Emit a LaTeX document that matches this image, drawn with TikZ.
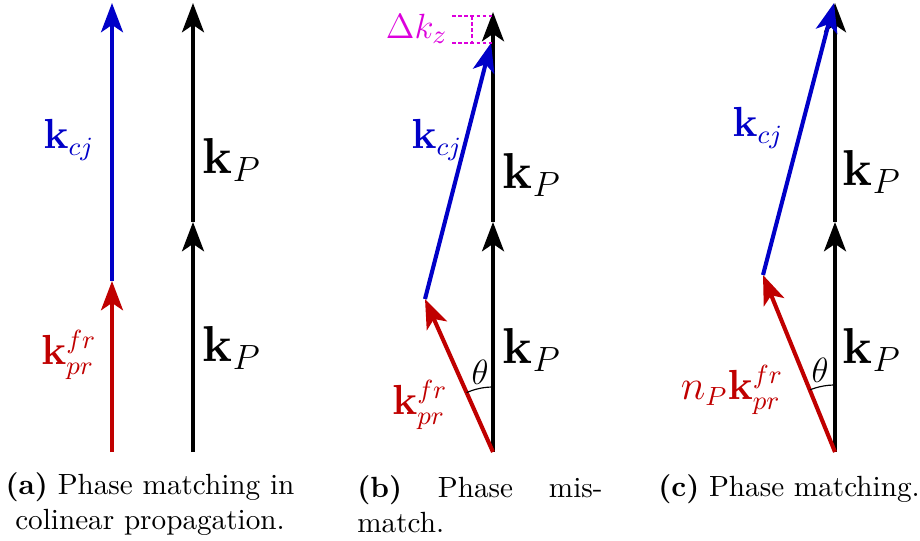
\documentclass[tikz,border=0pt]{standalone}
\usetikzlibrary{arrows.meta}
\definecolor{prred}{RGB}{192,0,0}
\definecolor{cjblue}{RGB}{0,0,200}
\definecolor{dkmag}{RGB}{220,0,220}
\begin{document}
\begin{tikzpicture}[x=0.3425pt,y=-0.3425pt,
  vec/.style={line width=1.4pt,-{Stealth[length=10pt,width=7.5pt,inset=2.5pt]}},
  lab/.style={font=\fontsize{13.5}{16}\selectfont},
  big/.style={font=\fontsize{17}{20}\selectfont},
  dkz/.style={dkmag,line width=0.7pt,dash pattern=on 1.2pt off 0.9pt}]
  \useasboundingbox (0,0) rectangle (920,540);

  % (a) colinear
  \coordinate (a0) at (112,452); \coordinate (a1) at (112,281); \coordinate (a2) at (112,3);
  \coordinate (pa0) at (193,452); \coordinate (pa1) at (193,222); \coordinate (pa2) at (193,3);
  \draw[vec] (pa0) -- (pa1);
  \draw[vec] (pa1) -- (pa2);
  \draw[vec,cjblue] (a1) -- (a2);
  \draw[vec,prred] (a0) -- (a1);
  \node[lab,cjblue] (cja) at (69,140) {$\mathbf{k}_{cj}$};
  \node[lab,prred] (pra) at (69,355) {$\mathbf{k}_{pr}^{fr}$};
  \node[big] (kpa1) at (232,160) {$\mathbf{k}_P$};
  \node[big] (kpa2) at (232,348) {$\mathbf{k}_P$};

  % (b) mismatch
  \coordinate (b0) at (493,452); \coordinate (b1) at (425,299); \coordinate (b2) at (491,43);
  \coordinate (pb1) at (493,222); \coordinate (pb2) at (493,12);
  \draw[vec] (b0) -- (pb1);
  \draw[vec] (pb1) -- (pb2);
  \draw[vec,cjblue] (b1) -- (b2);
  \draw[vec,prred] (b0) -- (b1);
  \draw[thin] (b0) ++(270:65) arc[start angle=270,end angle=246,radius=65];
  \node[font=\large] (thb) at (480,372) {$\theta$};
  \node[lab,cjblue] (cjb) at (437,140) {$\mathbf{k}_{cj}$};
  \node[lab,prred] (prb) at (420,405) {$\mathbf{k}_{pr}^{fr}$};
  \node[big] (kpb1) at (532,175) {$\mathbf{k}_P$};
  \node[big] (kpb2) at (532,350) {$\mathbf{k}_P$};
  \coordinate (dk1) at (452,16); \coordinate (dk2) at (452,43);
  \draw[dkz] (dk1) -- (493,16) (dk2) -- (493,43) (472,16) -- (472,43);
  \node[dkmag,font=\fontsize{12.5}{14}\selectfont,anchor=east,inner sep=1pt] (dkl) at (451,29) {$\Delta k_z$};

  % (c) matching
  \coordinate (c0) at (835,452); \coordinate (c1) at (763,275); \coordinate (c2) at (834,3);
  \coordinate (pc1) at (835,222); \coordinate (pc2) at (835,3);
  \draw[vec] (c0) -- (pc1);
  \draw[vec] (pc1) -- (pc2);
  \draw[vec,cjblue] (c1) -- (c2);
  \draw[vec,prred] (c0) -- (c1);
  \draw[thin] (c0) ++(270:67) arc[start angle=270,end angle=248,radius=67];
  \node[font=\large] (thc) at (820,370) {$\theta$};
  \node[lab,cjblue] (cjc) at (758,128) {$\mathbf{k}_{cj}$};
  \node[lab,prred] (prc) at (732,390) {$n_P\mathbf{k}_{pr}^{fr}$};
  \node[big] (kpc1) at (872,172) {$\mathbf{k}_P$};
  \node[big] (kpc2) at (872,350) {$\mathbf{k}_P$};

  % captions
  \node[text width=100pt,align=center,inner sep=0pt] (capa) at (150,504)
    {\textbf{(a)} Phase matching in\\colinear propagation.};
  \node[text width=84pt,align=justify,inner sep=0pt] (capb) at (480,504)
    {\textbf{(b)} Phase mis\-match.};
  \node[inner sep=0pt] (capc) at (789,489) {\textbf{(c)} Phase matching.};
\end{tikzpicture}
\end{document}
